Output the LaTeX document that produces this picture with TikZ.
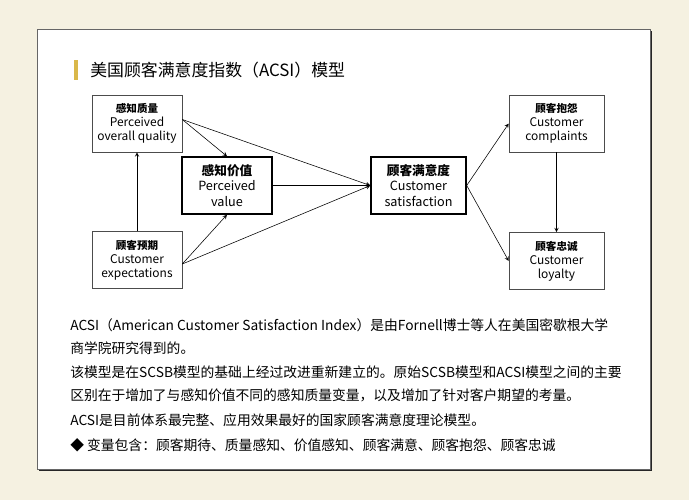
\documentclass[tikz,border=0pt]{standalone}
\usepackage{fontspec}
\setmainfont{Noto Sans CJK SC}
\usetikzlibrary{positioning}
\definecolor{cream}{HTML}{F5F1E1}
\definecolor{barcol}{HTML}{D9B84A}

\begin{document}
\begin{tikzpicture}[x=0.025cm, y=-0.025cm,
    box/.style={
        rectangle,
        draw=black!70,
        fill=white,
        align=center,
        inner sep=1pt,
        minimum width=90*0.025cm,
        minimum height=57*0.025cm,
        font=\fontsize{8.5}{10}\selectfont
    },
    keybox/.style={box, draw=black, line width=1pt, font=\fontsize{9}{11}\selectfont},
    link/.style={->, >=stealth, thin},
    txt/.style={anchor=west, inner sep=0pt, font=\fontsize{9.8}{11}\selectfont}
]
    \fill[cream] (0,0) rectangle (689,500);
    \fill[black!85] (39,31) rectangle (652,471);
    \fill[white, draw=black!60] (37,29) rectangle (650,469);

    \fill[barcol] (74,60) rectangle (78,80);
    \node (title) [txt, font=\fontsize{12}{14}\selectfont] at (90,70)
    {
        美国顾客满意度指数（ACSI）模型
    };

    \node (quality) [box] at (137,123.5)
    {
        {\bfseries\fontsize{7.5}{9}\selectfont 感知质量}\\Perceived\\overall quality
    };
    \node (value) [keybox] at (227,185.5)
    {
        {\bfseries 感知价值}\\Perceived\\value
    };
    \node (expect) [box] at (137,260)
    {
        {\bfseries\fontsize{7.5}{9}\selectfont 顾客预期}\\Customer\\expectations
    };
    \node (satis) [keybox, minimum width=95*0.025cm] at (418.5,185.5)
    {
        {\bfseries 顾客满意度}\\Customer\\satisfaction
    };
    \node (complain) [box, minimum width=95*0.025cm] at (556.5,123.5)
    {
        {\bfseries\fontsize{7.5}{9}\selectfont 顾客抱怨}\\Customer\\complaints
    };
    \node (loyal) [box, minimum width=95*0.025cm] at (556.5,261)
    {
        {\bfseries\fontsize{7.5}{9}\selectfont 顾客忠诚}\\Customer\\loyalty
    };

    \coordinate (qa) at ([yshift=4*0.025cm]quality.east);
    \coordinate (ea) at ([yshift=-4*0.025cm]expect.east);
    \draw[link] (qa) -- (value.north);
    \draw[link] (qa) -- (satis.west);
    \draw[link] (value) -- (satis);
    \draw[link] (ea) -- (value.south);
    \draw[link] (ea) -- (satis.west);
    \draw[link] (expect) -- (quality);
    \draw[link] (satis.east) -- (complain.west);
    \draw[link] (satis.east) -- (loyal.west);
    \draw[link] (complain) -- (loyal);

    \node (line_a) [txt] at (70,325) {ACSI（American Customer Satisfaction Index）是由Fornell博士等人在美国密歇根大学};
    \node (line_b) [txt] at (70,348) {商学院研究得到的。};
    \node (line_c) [txt] at (70,372) {该模型是在SCSB模型的基础上经过改进重新建立的。原始SCSB模型和ACSI模型之间的主要};
    \node (line_d) [txt] at (70,395) {区别在于增加了与感知价值不同的感知质量变量，以及增加了针对客户期望的考量。};
    \node (line_e) [txt] at (70,420) {ACSI是目前体系最完整、应用效果最好的国家顾客满意度理论模型。};
    \node (line_f) [txt] at (70,445) {◆\ 变量包含：顾客期待、质量感知、价值感知、顾客满意、顾客抱怨、顾客忠诚};
\end{tikzpicture}
\end{document}
